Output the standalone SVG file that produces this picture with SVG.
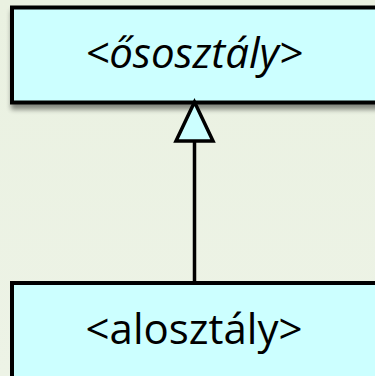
<svg xmlns="http://www.w3.org/2000/svg" width="375" height="376" viewBox="0 0 375 376">
<defs>
<linearGradient id="bg" x1="0" y1="0" x2="0" y2="1">
<stop offset="0" stop-color="#EAF1E1"/>
<stop offset="1" stop-color="#EDF3E6"/>
</linearGradient>
<filter id="sh" x="-10%" y="-10%" width="130%" height="140%">
<feGaussianBlur in="SourceAlpha" stdDeviation="2.5"/>
<feOffset dx="1" dy="5" result="b"/>
<feComponentTransfer><feFuncA type="linear" slope="0.45"/></feComponentTransfer>
<feMerge><feMergeNode/><feMergeNode in="SourceGraphic"/></feMerge>
</filter>
<style>
.box{fill:#CCFFFF;stroke:#000;stroke-width:4}
.lbl{font-family:"Open Sans","Liberation Sans",sans-serif;font-size:42px;fill:#000;text-anchor:middle}
.conn{stroke:#000;stroke-width:3.5;fill:none}
</style>
</defs>
<rect width="375" height="376" fill="url(#bg)"/>
<g id="ososztaly">
<rect class="box" x="12" y="7.5" width="380" height="95" filter="url(#sh)"/>
<text class="lbl" x="194" y="68" font-style="italic" font-size="43">&lt;ősosztály&gt;</text>
</g>
<g id="alosztaly">
<rect class="box" x="12" y="283" width="380" height="120"/>
<text class="lbl" x="194" y="344">&lt;alosztály&gt;</text>
</g>
<g id="connectors">
<line class="conn" x1="194.5" y1="141" x2="194.5" y2="281"/>
<polygon class="conn" points="194.5,102 176,141 213,141" style="fill:#CCFFFF"/>
</g>
</svg>
